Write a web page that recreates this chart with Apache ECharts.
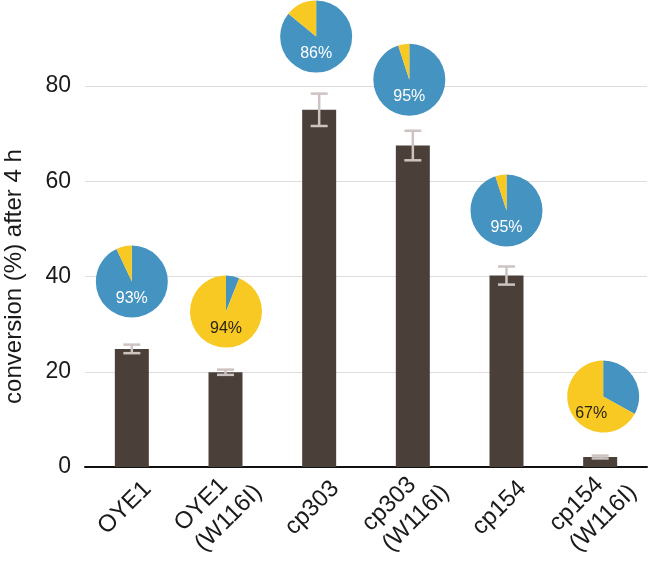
<!DOCTYPE html>
<html>
<head>
<meta charset="utf-8">
<script src="https://cdn.jsdelivr.net/npm/echarts@6/dist/echarts.min.js"></script>
<style>
html,body{margin:0;padding:0;background:#fff;}
#chart{width:667px;height:563px;}
</style>
</head>
<body>
<div id="chart"></div>
<script>
// ---- data ----
const categories = ['OYE1', 'OYE1\n(W116I)', 'cp303', 'cp303\n(W116I)', 'cp154', 'cp154\n(W116I)'];
const conversion = [24.8, 19.9, 75.0, 67.5, 40.2, 2.1];
const conversionErr = [0.9, 0.55, 3.4, 3.1, 1.9, 0.3];
const bluePercent = [93, 6, 86, 95, 95, 33];
const pieLabels = ['93%', '94%', '86%', '95%', '95%', '67%'];
const yTicks = [0, 20, 40, 60, 80];

// ---- layout (pixels) ----
const pieLift = [63, 58, 57, 51, 56, 59];     // px above error-bar top
const pieShiftX = [0, 0.5, -3, -3.5, 0, 3];
const pieRadius = 36;
const pieLabelDx = [0, 0, 0, 0, 0, -12];

const BLUE = '#4493c0', YELLOW = '#f8c823';
const FONT = 'Liberation Sans';

const chart = echarts.init(document.getElementById('chart'), null, {renderer: 'canvas'});

const errData = conversion.map((v, i) => [i, v - conversionErr[i], v + conversionErr[i]]);
const pieData = bluePercent.map((b, i) => [i, conversion[i] + conversionErr[i], b]);

function fmt(v) {
  return v.split('\n').map(p => '{d|' + p + '}').join('\n');
}

const option = {
  animation: false,
  grid: {left: 85, right: 20, top: 86, bottom: 96, outerBoundsMode: 'none', containLabel: false},
  xAxis: {
    type: 'category',
    data: categories,
    axisTick: {show: false},
    axisLine: {lineStyle: {color: '#111', width: 2}},
    axisLabel: {
      interval: 0, rotate: 45, margin: 41,
      align: 'center', verticalAlign: 'middle',
      padding: [0, 10, 10, 0],
      color: '#1a1a1a', fontSize: 24, fontFamily: FONT,
      lineHeight: 29,
      formatter: fmt,
      rich: {
        d: {fontSize: 24, fontFamily: FONT, color: '#1a1a1a', align: 'left', lineHeight: 29}
      }
    }
  },
  yAxis: {
    type: 'value', min: yTicks[0], max: yTicks[yTicks.length - 1], interval: yTicks[1] - yTicks[0],
    axisLine: {show: false}, axisTick: {show: false},
    splitLine: {lineStyle: {color: '#e0dcdb', width: 1}},
    axisLabel: {fontSize: 23, margin: 14, color: '#1a1a1a', fontFamily: FONT},
    name: 'conversion (%) after 4 h', nameLocation: 'middle', nameRotate: 90, nameGap: 59,
    nameTextStyle: {fontSize: 24, color: '#1a1a1a', fontFamily: FONT}
  },
  series: [
    {
      type: 'bar', data: conversion, barWidth: 34,
      itemStyle: {color: '#4a4039'}, z: 2
    },
    {
      type: 'custom', data: errData, z: 3, clip: false,
      renderItem: function (params, api) {
        const x = api.value(0);
        const lo = api.coord([x, api.value(1)]);
        const hi = api.coord([x, api.value(2)]);
        const hw = 8.5;
        const st = {stroke: '#cdc4c1', lineWidth: 2.5};
        return {
          type: 'group', children: [
            {type: 'line', shape: {x1: hi[0], y1: hi[1], x2: lo[0], y2: lo[1]}, style: st},
            {type: 'line', shape: {x1: hi[0] - hw, y1: hi[1], x2: hi[0] + hw, y2: hi[1]}, style: st},
            {type: 'line', shape: {x1: lo[0] - hw, y1: lo[1], x2: lo[0] + hw, y2: lo[1]}, style: st}
          ]
        };
      }
    },
    {
      type: 'custom', data: pieData, z: 4, clip: false,
      renderItem: function (params, api) {
        const i = params.dataIndex;
        const base = api.coord([api.value(0), api.value(1)]);
        const cx = base[0] + pieShiftX[i];
        const cy = base[1] - pieLift[i];
        const f = api.value(2) / 100;
        const a0 = -Math.PI / 2, a1 = a0 + 2 * Math.PI * f, a2 = a0 + 2 * Math.PI;
        const blueMajor = f >= 0.5;
        return {
          type: 'group', children: [
            {type: 'sector', shape: {cx: cx, cy: cy, r: pieRadius, r0: 0, startAngle: a0, endAngle: a1, clockwise: true}, style: {fill: BLUE}},
            {type: 'sector', shape: {cx: cx, cy: cy, r: pieRadius, r0: 0, startAngle: a1, endAngle: a2, clockwise: true}, style: {fill: YELLOW}},
            {type: 'text', style: {
              x: cx + pieLabelDx[i], y: cy + 17, text: pieLabels[i],
              fill: blueMajor ? '#ffffff' : '#2b2413',
              fontSize: 16, fontFamily: FONT, align: 'center', verticalAlign: 'middle'
            }}
          ]
        };
      }
    }
  ]
};
chart.setOption(option);
</script>
</body>
</html>
